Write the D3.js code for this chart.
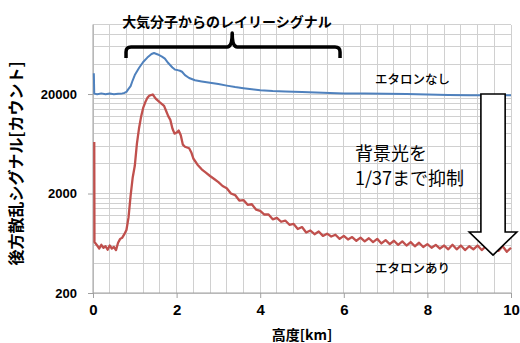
<!DOCTYPE html>
<html><head><meta charset="utf-8">
<script src="https://cdn.jsdelivr.net/npm/d3@7"></script>
<style>
html,body{margin:0;padding:0;background:#fff;}
svg{display:block;}
</style></head>
<body>
<svg id="chart" width="520" height="343"></svg>
<script>
// ---- data ----
const xTicks = [0, 2, 4, 6, 8, 10];
const xTickLabels = ["0", "2", "4", "6", "8", "10"];
const yTicks = [200, 2000, 20000];
const yTickLabels = ["200", "2000", "20000"];
const xTitle = "高度[km]";
const yTitle = "後方散乱シグナル[カウント]";
const bracketLabel = "大気分子からのレイリーシグナル";
const labelNoEtalon = "エタロンなし";
const labelEtalon = "エタロンあり";
const noteLines = ["背景光を", "1/37まで抑制"];

// series without etalon (blue): altitude [km], counts
const blueKm = [0.02, 0.03, 0.1, 0.2, 0.3, 0.4, 0.5, 0.6, 0.7, 0.75, 0.8, 0.85, 0.9, 0.95, 1.0, 1.1, 1.2, 1.3, 1.4, 1.46, 1.55, 1.65, 1.72, 1.8, 1.9, 1.96, 2.02, 2.08, 2.13, 2.2, 2.3, 2.44, 2.6, 2.8, 3.0, 3.2, 3.4, 3.6, 3.8, 4.0, 4.3, 4.6, 5.0, 5.5, 6.0, 6.5, 7.0, 7.5, 8.0, 8.5, 9.0, 9.5, 10.0];
const blueVal = [32400, 20200, 19900, 20300, 19900, 20200, 19900, 20100, 20300, 20500, 21000, 22500, 24000, 27500, 31000, 36500, 42000, 46500, 50500, 51700, 50000, 47500, 45400, 41000, 37000, 35200, 34800, 34300, 33500, 31000, 29000, 27500, 26800, 26000, 25200, 24300, 23500, 22900, 22300, 21800, 21400, 21200, 21000, 20600, 20300, 20200, 20100, 20000, 19800, 19600, 19500, 19500, 19400];

// series with etalon (red): altitude [km], counts
const redKm = [0.03, 0.035, 0.1, 0.15, 0.2, 0.25, 0.3, 0.35, 0.4, 0.45, 0.5, 0.55, 0.6, 0.65, 0.7, 0.75, 0.8, 0.85, 0.9, 0.95, 1.0, 1.05, 1.1, 1.15, 1.2, 1.25, 1.3, 1.35, 1.43, 1.5, 1.6, 1.7, 1.75, 1.8, 1.85, 1.9, 1.95, 2.0, 2.05, 2.1, 2.15, 2.2, 2.3, 2.35, 2.4, 2.5, 2.6, 2.7, 2.8, 2.9,
  3.0, 3.1, 3.2, 3.3, 3.4, 3.5, 3.6, 3.7, 3.8, 3.9, 4.0, 4.1, 4.2, 4.3, 4.4, 4.5, 4.6, 4.7, 4.8, 4.9, 5.0, 5.1, 5.2, 5.3, 5.4, 5.5, 5.6, 5.7, 5.8, 5.9, 6.0, 6.1, 6.2, 6.3, 6.4, 6.5, 6.6, 6.7, 6.8, 6.9, 7.0, 7.1, 7.2, 7.3, 7.4, 7.5, 7.6, 7.7, 7.8, 7.9, 8.0, 8.1, 8.2, 8.3, 8.4, 8.5, 8.6, 8.7, 8.8, 8.9, 9.0, 9.1, 9.2, 9.3, 9.4, 9.5, 9.6, 9.7, 9.8, 9.9, 10.0];
const redVal = [6600, 650, 600, 560, 610, 570, 590, 545, 600, 560, 580, 540, 640, 700, 720, 780, 860, 1150, 1900, 2900, 3800, 6300, 9000, 11800, 14500, 16500, 18300, 19300, 19800, 18000, 16500, 15200, 13500, 12000, 11000, 9000, 8000, 8200, 8600, 7700, 6200, 5900, 5700, 5200, 4500, 3900, 3500, 3250, 3000, 2800,
  2600, 2380, 2260, 2000, 1930, 1700, 1720, 1540, 1560, 1380, 1340, 1230, 1230, 1100, 1140, 1040, 1070, 970, 990, 880, 920, 810, 850, 780, 830, 750, 790, 740, 770, 700, 750, 690, 730, 670, 720, 660, 710, 650, 700, 630, 680, 620, 670, 610, 660, 600, 650, 590, 640, 580, 620, 570, 610, 560, 600, 550, 610, 550, 600, 540, 590, 550, 600, 540, 590, 540, 600, 530, 590, 520, 570];

// annotation anchors (data units)
const bracketKm = [0.79, 3.33, 5.91];
const arrowKm = { shaftL: 9.28, shaftR: 9.86, headL: 9.0, headR: 10.14, tip: 9.57 };
const arrowVal = { top: 20000, neck: 820, tip: 480 };

// ---- layout ----
const svg = d3.select("#chart");
const L = 93, R = 511, T = 24.5, B = 293;
const x = d3.scaleLinear().domain([0, 10]).range([L, R]);
const y = d3.scaleLog().domain([200, 100000]).range([B, T]);

const cjk = "'Noto Sans CJK JP', 'Noto Sans', sans-serif";
const num = "'Liberation Sans', Arial, 'Noto Sans CJK JP', sans-serif";

// grid
const vGrid = d3.range(0, 10.0001, 0.4);
const hGrid = [];
[200, 2000, 20000].forEach(b => { for (let k = 1; k <= 9; k++) { const v = b * k; if (v <= 100000) hGrid.push(v); } });
hGrid.push(100000);

const g = svg.append("g");
g.selectAll("line.vg").data(vGrid).enter().append("line")
  .attr("x1", d => x(d)).attr("x2", d => x(d)).attr("y1", T).attr("y2", B)
  .attr("stroke", "#d0d0d0").attr("stroke-width", 1).attr("shape-rendering", "crispEdges");
g.selectAll("line.hg").data(hGrid).enter().append("line")
  .attr("x1", L).attr("x2", R).attr("y1", d => y(d)).attr("y2", d => y(d))
  .attr("stroke", "#d0d0d0").attr("stroke-width", 1).attr("shape-rendering", "crispEdges");

// axes
const xAxis = d3.axisBottom(x).tickValues(xTicks).tickFormat((d, i) => xTickLabels[i]).tickSize(5).tickPadding(6);
const yAxis = d3.axisLeft(y).tickValues(yTicks).tickFormat((d, i) => yTickLabels[i]).tickSize(5).tickPadding(11);
const gx = svg.append("g").attr("transform", `translate(0,${B})`).call(xAxis);
const gy = svg.append("g").attr("transform", `translate(${L},0)`).call(yAxis);
[gx, gy].forEach(a => {
  a.select(".domain").attr("stroke", "#a0a0a0");
  a.selectAll(".tick line").attr("stroke", "#a0a0a0");
  a.selectAll("text").attr("fill", "#000").attr("font-family", num).attr("font-weight", "bold");
});
gx.selectAll("text").attr("font-size", 15);
gy.selectAll("text").attr("font-size", 13);
gy.select(".domain").attr("d", `M0,${B}V${T}`);
gx.select(".domain").attr("d", `M${L},0H${R}`);

// series
const line = d3.line().x(d => x(d[0])).y(d => y(d[1]));
const blue = blueKm.map((k, i) => [k, blueVal[i]]);
const red = redKm.map((k, i) => [k, redVal[i]]);
svg.append("path").datum(blue).attr("d", line).attr("fill", "none")
  .attr("stroke", "#4f81bd").attr("stroke-width", 2).attr("stroke-linejoin", "round");
svg.append("path").datum(red).attr("d", line).attr("fill", "none")
  .attr("stroke", "#c0504d").attr("stroke-width", 2.3).attr("stroke-linejoin", "round");

// bracket
const bx0 = x(bracketKm[0]), bxm = x(bracketKm[1]), bx1 = x(bracketKm[2]);
const by = 47, bEnd = 58, bTop = 33, r = 5;
svg.append("path")
  .attr("d", `M${bx0},${bEnd} V${by + r} Q${bx0},${by} ${bx0 + r},${by} H${bxm - r} Q${bxm},${by} ${bxm},${bTop} Q${bxm},${by} ${bxm + r},${by} H${bx1 - r} Q${bx1},${by} ${bx1},${by + r} V${bEnd}`)
  .attr("fill", "none").attr("stroke", "#000").attr("stroke-width", 3.5).attr("stroke-linejoin", "round");
svg.append("text").attr("x", 227).attr("y", 21).attr("text-anchor", "middle").attr("dominant-baseline", "central")
  .attr("font-family", cjk).attr("font-weight", "bold").attr("font-size", 14).text(bracketLabel);

// arrow
const aPts = [
  [x(arrowKm.shaftL), y(arrowVal.top)], [x(arrowKm.shaftR), y(arrowVal.top)],
  [x(arrowKm.shaftR), y(arrowVal.neck)], [x(arrowKm.headR), y(arrowVal.neck)],
  [x(arrowKm.tip), y(arrowVal.tip)], [x(arrowKm.headL), y(arrowVal.neck)],
  [x(arrowKm.shaftL), y(arrowVal.neck)]
];
svg.append("polygon").attr("points", aPts.map(p => p.join(",")).join(" "))
  .attr("fill", "#fff").attr("stroke", "#000").attr("stroke-width", 1.6).attr("stroke-linejoin", "miter");

// labels
svg.append("text").attr("x", 375).attr("y", 78).attr("dominant-baseline", "central")
  .attr("font-family", cjk).attr("font-size", 12.5).attr("font-weight", 500).text(labelNoEtalon);
svg.append("text").attr("x", 375).attr("y", 267).attr("dominant-baseline", "central")
  .attr("font-family", cjk).attr("font-size", 12.5).attr("font-weight", 500).text(labelEtalon);
svg.selectAll("text.note").data(noteLines).enter().append("text")
  .attr("x", 355).attr("y", (d, i) => 152 + i * 25).attr("dominant-baseline", "central")
  .attr("font-family", cjk).attr("font-size", 18).text(d => d);

// axis titles
svg.append("text").attr("x", (L + R) / 2).attr("y", 340).attr("text-anchor", "middle")
  .attr("font-family", cjk).attr("font-weight", "bold").attr("font-size", 14).text(xTitle);
svg.append("text").attr("transform", `translate(15,${(65 + 262) / 2}) rotate(-90)`)
  .attr("text-anchor", "middle").attr("dominant-baseline", "central")
  .attr("font-family", cjk).attr("font-weight", "bold").attr("font-size", 16).text(yTitle);
</script>
</body></html>
